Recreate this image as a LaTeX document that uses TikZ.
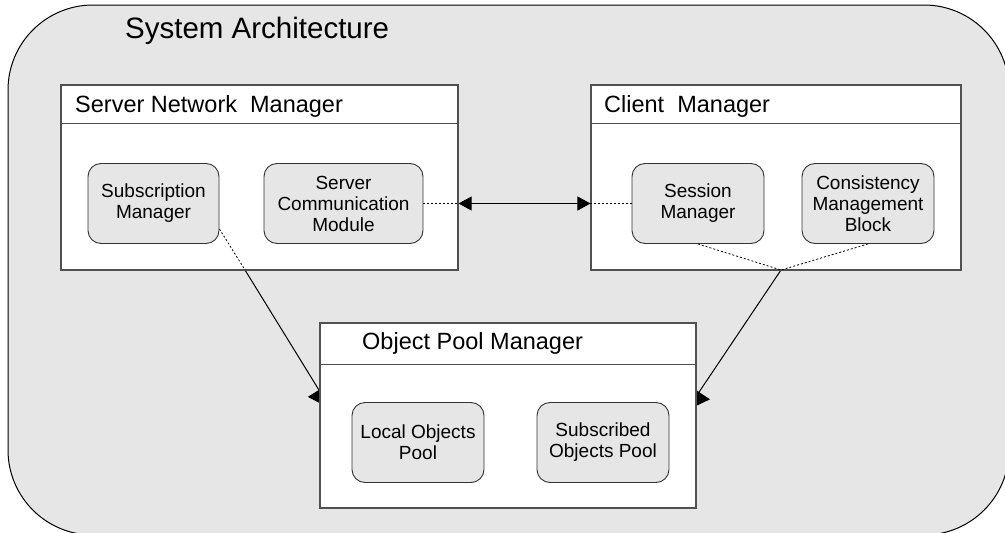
\documentclass[tikz,border=0pt]{standalone}
\usepackage{fontspec}
\setmainfont{Liberation Sans}
\usetikzlibrary{arrows.meta}
\pgfdeclarelayer{back}
\pgfdeclarelayer{wires}
\pgfsetlayers{back,wires,main}
\definecolor{panel}{RGB}{230,230,230}
\definecolor{edge}{RGB}{80,80,80}
\tikzset{
  bigbox/.style={draw=edge, line width=1.1pt, fill=white, rectangle, inner sep=0pt},
  sepline/.style={draw=edge, line width=1.1pt},
  pool/.style={draw=black!80, line width=0.9pt, fill=panel, rectangle,
    rounded corners=13pt, inner sep=0pt, align=center,
    font=\fontsize{19}{21}\selectfont},
  headtext/.style={inner sep=0pt, anchor=base west, font=\fontsize{23.5}{26}\selectfont},
  wire/.style={draw=black, line width=1pt},
  dots/.style={draw=black, line width=0.8pt, dash pattern=on 2pt off 2pt},
  tri/.style={-{Triangle[length=22pt,width=26pt]}},
  duo/.style={{Triangle[length=13pt,width=14pt]}-{Triangle[length=13pt,width=14pt]}}
}
\begin{document}
\begin{tikzpicture}[x=1pt,y=-1pt]
\useasboundingbox (0,0) rectangle (1005,533);

% outer panel
\begin{pgfonlayer}{back}
  \clip (0,0) rectangle (1005,533);
  \draw[fill=panel, draw=black, line width=1pt, rounded corners=85pt]
    (8,5) rectangle (1009,535);
\end{pgfonlayer}

\node[inner sep=0pt, anchor=base west, font=\fontsize{29.5}{32}\selectfont]
  (title) at (125,38) {System Architecture};

% Server Network Manager
\node[bigbox, minimum width=397pt, minimum height=185pt] (snm) at (259.5,177.5) {};
\draw[sepline] ([yshift=-39pt]snm.north west) -- ([yshift=-39pt]snm.north east);
\node[headtext] (snmt) at (75,112) {Server Network\ \ Manager};
\node[pool, minimum width=131pt, minimum height=80pt] (sub) at (153.5,203.5)
  {Subscription\\Manager};
\node[pool, minimum width=159pt, minimum height=80pt] (scm) at (343.5,203.5)
  {Server\\Communication\\Module};

% Client Manager
\node[bigbox, minimum width=370pt, minimum height=185pt] (cm) at (776,177.5) {};
\draw[sepline] ([yshift=-39pt]cm.north west) -- ([yshift=-39pt]cm.north east);
\node[headtext] (cmt) at (604,112) {Client\ \ Manager};
\node[pool, minimum width=132pt, minimum height=80pt] (sess) at (698,203.5)
  {Session\\Manager};
\node[pool, minimum width=132pt, minimum height=80pt] (cmb) at (868,203.5)
  {Consistency\\Management\\Block};

% Object Pool Manager
\node[bigbox, minimum width=376pt, minimum height=185pt] (opm) at (508,415.5) {};
\draw[sepline] ([yshift=-42pt]opm.north west) -- ([yshift=-42pt]opm.north east);
\node[headtext] (opmt) at (362,349) {Object Pool Manager};
\node[pool, minimum width=132pt, minimum height=80pt] (lop) at (418,442.5)
  {Local Objects\\Pool};
\node[pool, minimum width=132pt, minimum height=80pt] (sop) at (603,442.5)
  {Subscribed\\Objects Pool};

% connectors: arrow tips end inside the pool manager box, which hides them
\coordinate (ja) at (245,270);
\coordinate (jb) at (781,270);
\coordinate (ta) at (330.5,408.7);
\coordinate (tb) at (686.8,410.3);
\begin{pgfonlayer}{wires}
  \draw[wire, tri] (ja) -- (ta);
  \draw[wire, tri] (jb) -- (tb);
\end{pgfonlayer}
\draw[dots] ([yshift=-25.5pt]sub.east) -- (ja);
\draw[dots] (sess.south) -- (jb);
\draw[dots] (cmb.south) -- (jb);
\draw[dots] (scm.east) -- (snm.east |- scm.east);
\draw[dots] (cm.west |- sess.west) -- (sess.west);
\draw[wire, duo] (snm.east |- scm.east) -- (cm.west |- sess.west);
\end{tikzpicture}
\end{document}
